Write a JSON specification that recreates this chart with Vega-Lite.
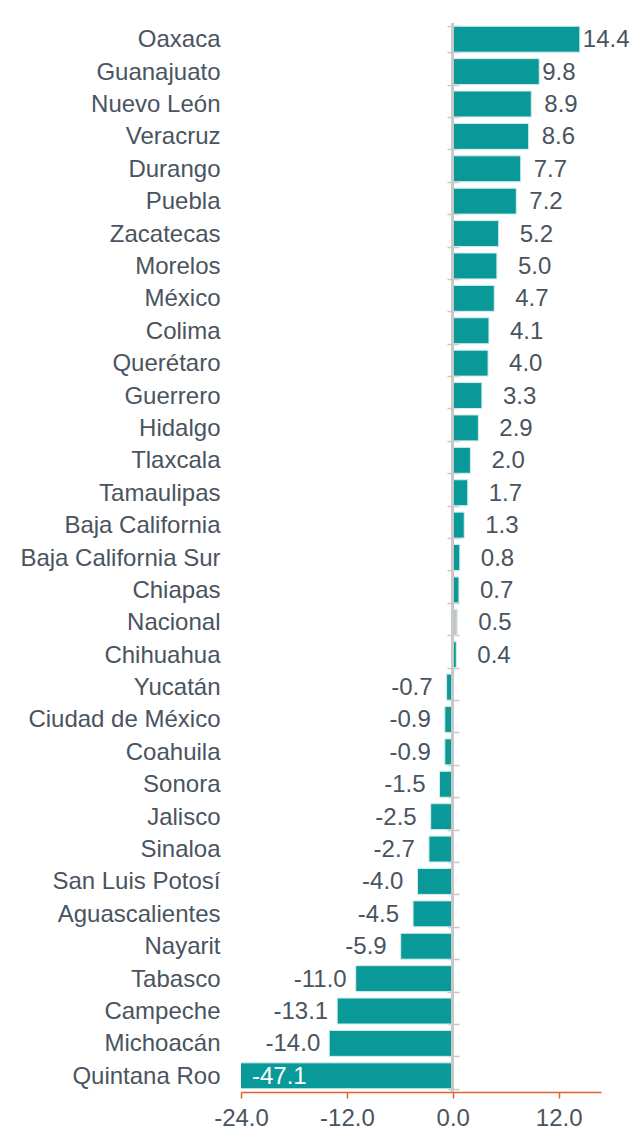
{
  "$schema": "https://vega.github.io/schema/vega-lite/v6.json",
  "width": 360,
  "height": 1069,
  "autosize": {"type": "none"},
  "padding": {"left": 241, "top": 23, "right": 34, "bottom": 42},
  "background": "white",
  "config": {
    "view": {"stroke": null},
    "font": "Liberation Sans",
    "text": {"font": "Liberation Sans"},
    "locale": {
      "number": {"decimal": ".", "thousands": ",", "grouping": [3], "currency": ["$", ""], "minus": "-"}
    }
  },
  "data": {
    "values": [
      {"estado": "Oaxaca", "valor": 14.4},
      {"estado": "Guanajuato", "valor": 9.8},
      {"estado": "Nuevo León", "valor": 8.9},
      {"estado": "Veracruz", "valor": 8.6},
      {"estado": "Durango", "valor": 7.7},
      {"estado": "Puebla", "valor": 7.2},
      {"estado": "Zacatecas", "valor": 5.2},
      {"estado": "Morelos", "valor": 5.0},
      {"estado": "México", "valor": 4.7},
      {"estado": "Colima", "valor": 4.1},
      {"estado": "Querétaro", "valor": 4.0},
      {"estado": "Guerrero", "valor": 3.3},
      {"estado": "Hidalgo", "valor": 2.9},
      {"estado": "Tlaxcala", "valor": 2.0},
      {"estado": "Tamaulipas", "valor": 1.7},
      {"estado": "Baja California", "valor": 1.3},
      {"estado": "Baja California Sur", "valor": 0.8},
      {"estado": "Chiapas", "valor": 0.7},
      {"estado": "Nacional", "valor": 0.5},
      {"estado": "Chihuahua", "valor": 0.4},
      {"estado": "Yucatán", "valor": -0.7},
      {"estado": "Ciudad de México", "valor": -0.9},
      {"estado": "Coahuila", "valor": -0.9},
      {"estado": "Sonora", "valor": -1.5},
      {"estado": "Jalisco", "valor": -2.5},
      {"estado": "Sinaloa", "valor": -2.7},
      {"estado": "San Luis Potosí", "valor": -4.0},
      {"estado": "Aguascalientes", "valor": -4.5},
      {"estado": "Nayarit", "valor": -5.9},
      {"estado": "Tabasco", "valor": -11.0},
      {"estado": "Campeche", "valor": -13.1},
      {"estado": "Michoacán", "valor": -14.0},
      {"estado": "Quintana Roo", "valor": -47.1}
    ]
  },
  "layer": [
    {
      "mark": {"type": "bar", "clip": true, "stroke": "#d2ecec", "strokeWidth": 1},
      "encoding": {
        "x": {
          "field": "valor",
          "type": "quantitative",
          "scale": {"domain": [-24, 16.8], "nice": false, "zero": false},
          "axis": {
            "values": [-24, -12, 0, 12],
            "format": ".1f",
            "title": null,
            "grid": false,
            "domainColor": "#e0622a",
            "domainWidth": 1.5,
            "tickColor": "#e0622a",
            "tickWidth": 1.5,
            "tickSize": 6,
            "labelFontSize": 24,
            "labelColor": "#4a5460",
            "labelPadding": 8,
            "labelFont": "Liberation Sans",
            "labelFlush": false
          }
        },
        "y": {
          "field": "estado",
          "type": "nominal",
          "sort": null,
          "scale": {"paddingInner": 0.2, "paddingOuter": 0.1},
          "axis": {
            "title": null,
            "orient": "left",
            "domain": false,
            "ticks": false,
            "labelPadding": 21,
            "labelFontSize": 24,
            "labelColor": "#4a5460",
            "labelFont": "Liberation Sans",
            "labelLimit": 300,
            "labelOffset": 1
          }
        },
        "color": {
          "condition": {"test": "datum.estado === 'Nacional'", "value": "#c4c4c4"},
          "value": "#0a9999"
        }
      }
    },
    {
      "mark": {"type": "rule", "color": "#c8c8c8", "strokeWidth": 2},
      "encoding": {"x": {"datum": 0, "type": "quantitative"}}
    },
    {
      "transform": [{"filter": "datum.valor >= 0 && datum.valor < 7"}],
      "mark": {"type": "text", "align": "left", "baseline": "middle", "dx": 21, "dy": 1, "fontSize": 24, "color": "#4a5460"},
      "encoding": {
        "x": {"field": "valor", "type": "quantitative"},
        "y": {
          "field": "estado",
          "type": "nominal",
          "sort": null,
          "axis": {
            "orient": "right",
            "offset": -154,
            "title": null,
            "labels": false,
            "domain": false,
            "tickBand": "extent",
            "tickSize": 12,
            "tickColor": "#c8c8c8",
            "tickWidth": 1.5
          }
        },
        "text": {"field": "valor", "type": "quantitative", "format": ".1f"}
      }
    },
    {
      "transform": [{"filter": "datum.valor >= 7 && datum.valor < 9.5"}],
      "mark": {"type": "text", "align": "left", "baseline": "middle", "dx": 13, "dy": 1, "fontSize": 24, "color": "#4a5460"},
      "encoding": {
        "x": {"field": "valor", "type": "quantitative"},
        "y": {"field": "estado", "type": "nominal", "sort": null, "axis": null},
        "text": {"field": "valor", "type": "quantitative", "format": ".1f"}
      }
    },
    {
      "transform": [{"filter": "datum.valor >= 9.5"}],
      "mark": {"type": "text", "align": "left", "baseline": "middle", "dx": 3, "dy": 1, "fontSize": 24, "color": "#4a5460"},
      "encoding": {
        "x": {"field": "valor", "type": "quantitative"},
        "y": {"field": "estado", "type": "nominal", "sort": null, "axis": null},
        "text": {"field": "valor", "type": "quantitative", "format": ".1f"}
      }
    },
    {
      "transform": [{"filter": "datum.valor < 0 && datum.valor >= -10"}],
      "mark": {"type": "text", "align": "right", "baseline": "middle", "dx": -14, "dy": 1, "fontSize": 24, "color": "#4a5460"},
      "encoding": {
        "x": {"field": "valor", "type": "quantitative"},
        "y": {"field": "estado", "type": "nominal", "sort": null, "axis": null},
        "text": {"field": "valor", "type": "quantitative", "format": ".1f"}
      }
    },
    {
      "transform": [{"filter": "datum.valor < -10 && datum.valor >= -24"}],
      "mark": {"type": "text", "align": "right", "baseline": "middle", "dx": -9, "dy": 1, "fontSize": 24, "color": "#4a5460"},
      "encoding": {
        "x": {"field": "valor", "type": "quantitative"},
        "y": {"field": "estado", "type": "nominal", "sort": null, "axis": null},
        "text": {"field": "valor", "type": "quantitative", "format": ".1f"}
      }
    },
    {
      "transform": [{"filter": "datum.valor < -24"}],
      "mark": {"type": "text", "align": "left", "baseline": "middle", "dx": 11, "dy": 1, "fontSize": 24, "color": "white"},
      "encoding": {
        "x": {"datum": -24, "type": "quantitative"},
        "y": {"field": "estado", "type": "nominal", "sort": null, "axis": null},
        "text": {"field": "valor", "type": "quantitative", "format": ".1f"}
      }
    }
  ],
  "resolve": {"axis": {"y": "independent"}}
}
